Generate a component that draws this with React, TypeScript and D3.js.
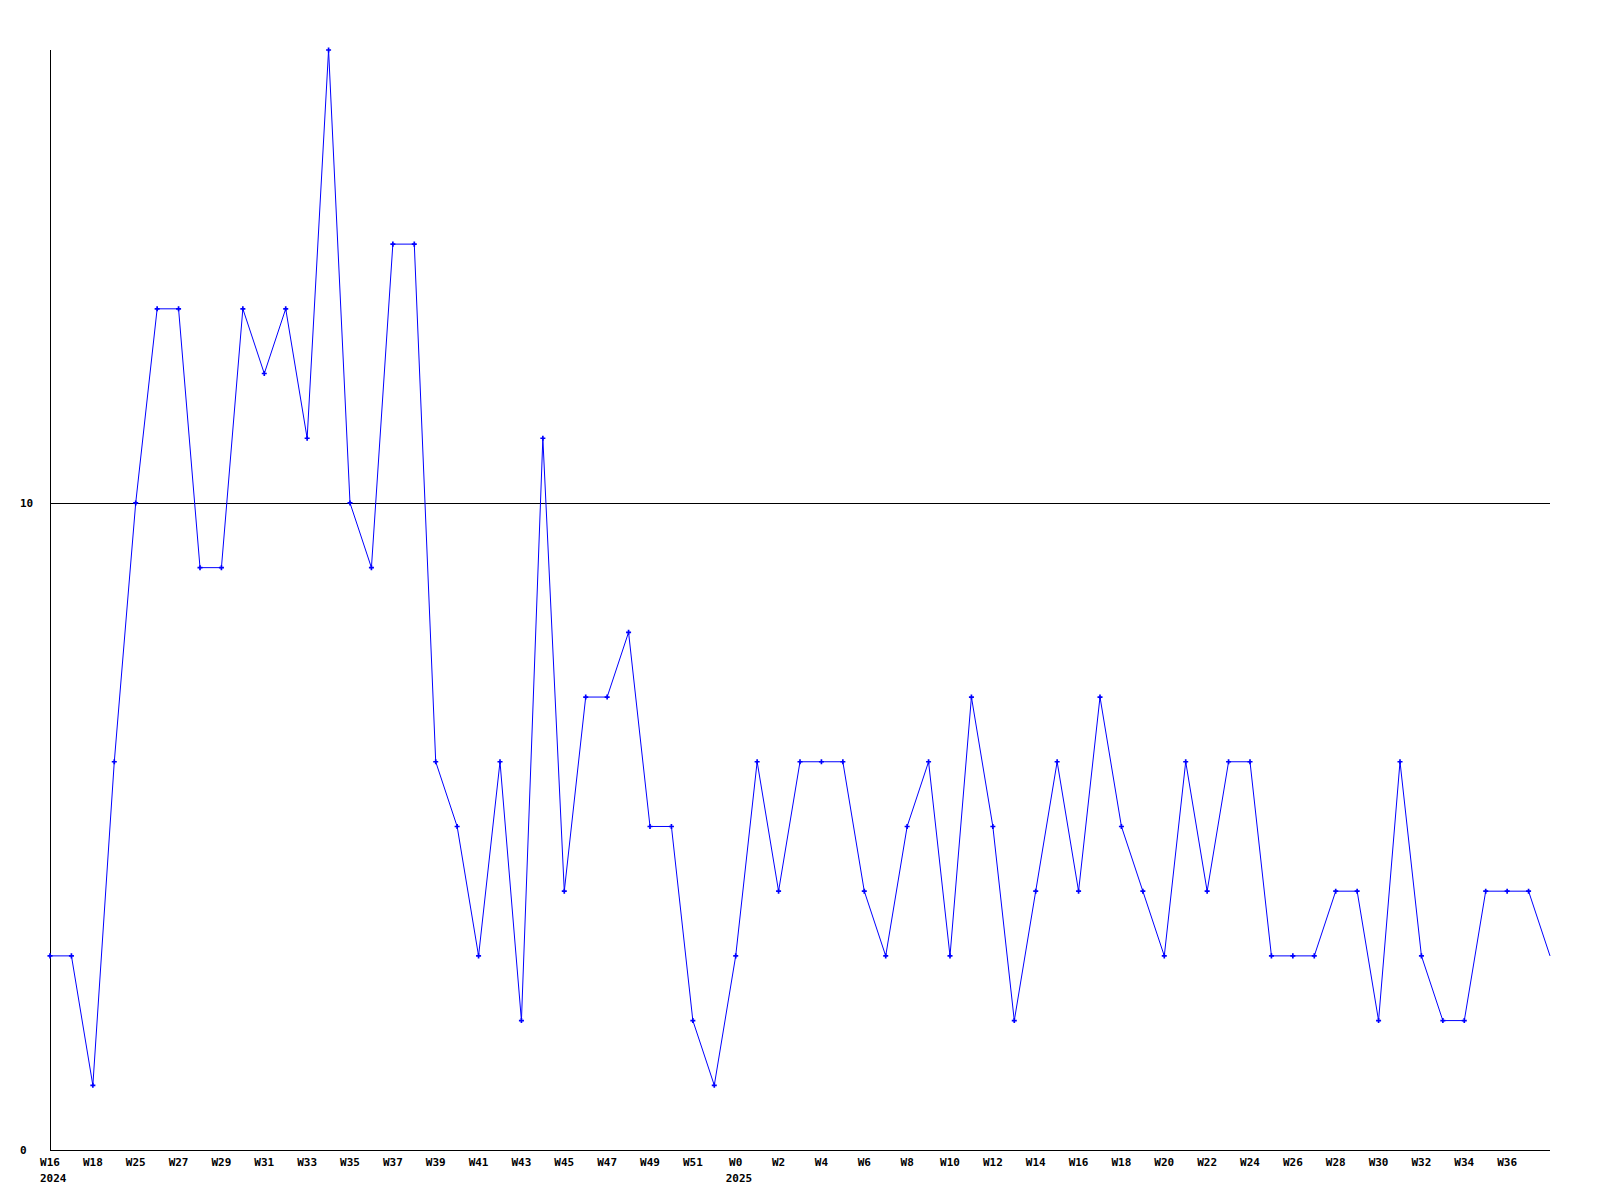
import React, { useRef, useEffect } from 'react';
import * as d3 from 'd3';

// weekly counts, one per week
const values: number[] = [
  3, 3, 1, 6, 10, 13, 13, 9, 9, 13, 12, 13, 11, 17, 10, 9, 14, 14, 6, 5,
  3, 6, 2, 11, 4, 7, 7, 8, 5, 5, 2, 1, 3, 6, 4, 6, 6, 6, 4, 3,
  5, 6, 3, 7, 5, 2, 4, 6, 4, 7, 5, 4, 3, 6, 4, 6, 6, 3, 3, 3,
  4, 4, 2, 6, 3, 2, 2, 4, 4, 4, 3,
];

// labels drawn on every second week
const weekLabels: string[] = [
  'W16', 'W18', 'W25', 'W27', 'W29', 'W31', 'W33', 'W35', 'W37', 'W39',
  'W41', 'W43', 'W45', 'W47', 'W49', 'W51', 'W0', 'W2', 'W4', 'W6',
  'W8', 'W10', 'W12', 'W14', 'W16', 'W18', 'W20', 'W22', 'W24', 'W26',
  'W28', 'W30', 'W32', 'W34', 'W36',
];

// year markers: index of the week where a year starts
const yearLabels: { index: number; year: string }[] = [
  { index: 0, year: '2024' },
  { index: 32, year: '2025' },
];

const yTicks: number[] = [0, 10];
const yMax = 17;

const LineChart: React.FC = () => {
  const ref = useRef<SVGSVGElement | null>(null);

  useEffect(() => {
    if (!ref.current) return;
    const width = 1600;
    const height = 1200;
    const left = 50, right = 1550, top = 50, bottom = 1150;

    const svg = d3.select(ref.current);
    svg.selectAll('*').remove();

    const x = d3.scaleLinear().domain([0, values.length - 1]).range([left, right]);
    const y = d3.scaleLinear().domain([0, yMax]).range([bottom, top]);

    const font = '"DejaVu Sans Mono", monospace';

    // horizontal grid lines (skip 0, the axis covers it)
    svg.selectAll('line.grid')
      .data(yTicks.filter((t) => t > 0))
      .enter()
      .append('line')
      .attr('x1', left)
      .attr('x2', right)
      .attr('y1', (d) => Math.round(y(d)) + 0.5)
      .attr('y2', (d) => Math.round(y(d)) + 0.5)
      .attr('stroke', '#000')
      .attr('stroke-width', 1);

    // axes
    svg.append('line')
      .attr('x1', left + 0.5).attr('x2', left + 0.5)
      .attr('y1', top).attr('y2', bottom)
      .attr('stroke', '#000');
    svg.append('line')
      .attr('x1', left).attr('x2', right)
      .attr('y1', bottom + 0.5).attr('y2', bottom + 0.5)
      .attr('stroke', '#000');

    // y labels
    svg.selectAll('text.ylab')
      .data(yTicks)
      .enter()
      .append('text')
      .attr('x', 20)
      .attr('y', (d) => y(d) + 4)
      .style('font-family', font)
      .style('font-size', '11px')
      .style('font-weight', 'bold')
      .text((d) => d);

    // x labels
    svg.selectAll('text.xlab')
      .data(weekLabels)
      .enter()
      .append('text')
      .attr('x', (_d, i) => x(i * 2))
      .attr('y', bottom + 16)
      .attr('text-anchor', 'middle')
      .style('font-family', font)
      .style('font-size', '11px')
      .style('font-weight', 'bold')
      .text((d) => d);

    svg.selectAll('text.year')
      .data(yearLabels)
      .enter()
      .append('text')
      .attr('x', (d) => x(d.index) - 10)
      .attr('y', bottom + 32)
      .style('font-family', font)
      .style('font-size', '11px')
      .style('font-weight', 'bold')
      .text((d) => d.year);

    // series line
    const line = d3.line<number>()
      .x((_d, i) => x(i))
      .y((d) => y(d));

    svg.append('path')
      .datum(values)
      .attr('d', line)
      .attr('fill', 'none')
      .attr('stroke', '#0000ff')
      .attr('stroke-width', 1);

    // point markers
    svg.selectAll('path.marker')
      .data(values.slice(0, -1))
      .enter()
      .append('path')
      .attr('d', d3.symbol(d3.symbolCross, 14))
      .attr('transform', (d, i) => `translate(${x(i)},${y(d)})`)
      .attr('fill', '#0000ff');

    svg.attr('width', width).attr('height', height);
  }, []);

  return <svg ref={ref} style={{ display: 'block', position: 'absolute', left: 0, top: 0 }} />;
};

const App: React.FC = () => (
  <div style={{ width: 1600, height: 1200, margin: -8, position: 'relative', background: '#fff' }}>
    <LineChart />
  </div>
);

export default App;
